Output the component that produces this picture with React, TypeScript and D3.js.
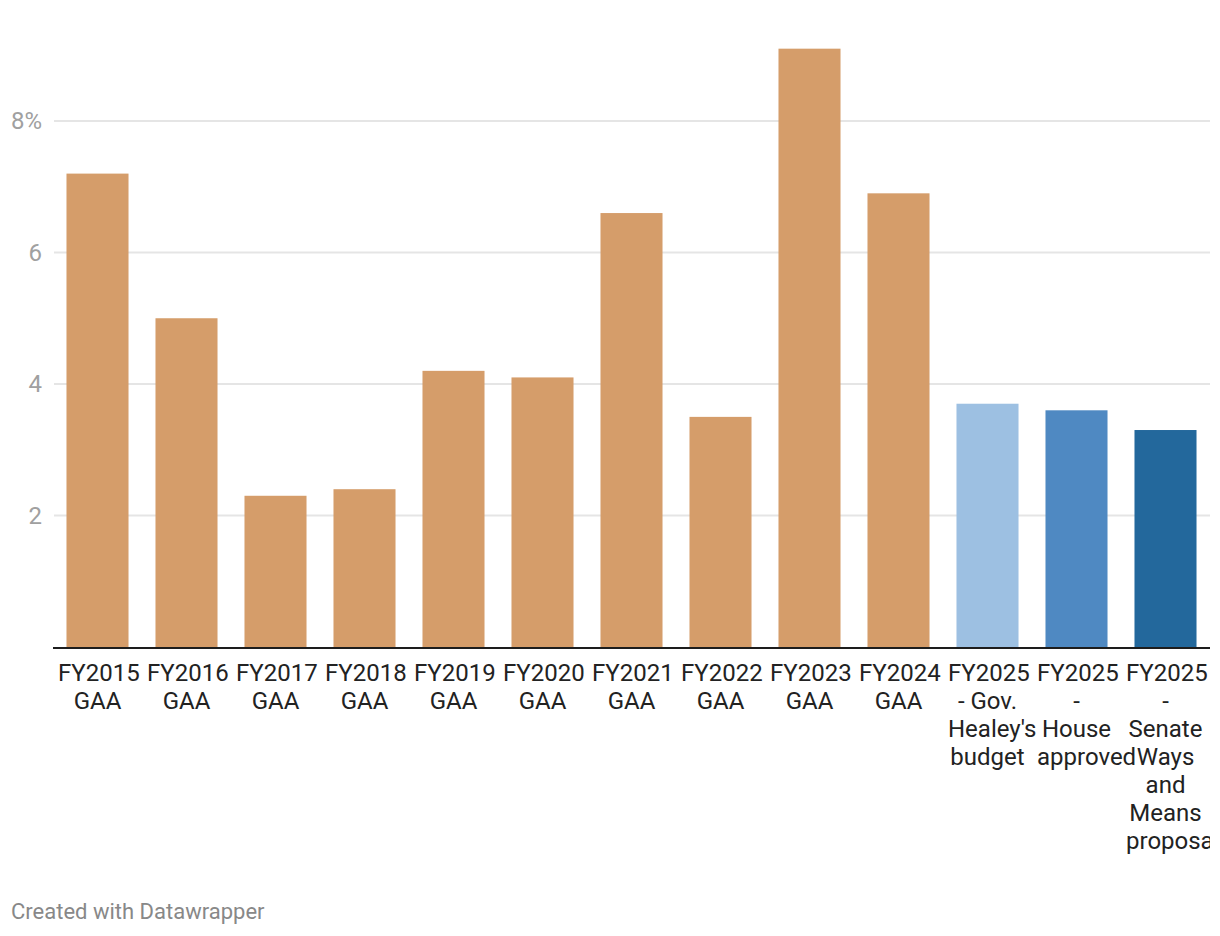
import * as d3 from 'd3';
import { useMemo } from 'react';

// Spending growth by budget stage (percent)
const categories = [
  'FY2015 GAA',
  'FY2016 GAA',
  'FY2017 GAA',
  'FY2018 GAA',
  'FY2019 GAA',
  'FY2020 GAA',
  'FY2021 GAA',
  'FY2022 GAA',
  'FY2023 GAA',
  'FY2024 GAA',
  "FY2025 - Gov. Healey's budget",
  'FY2025 - House approved',
  'FY2025 - Senate Ways and Means proposal',
];
const values = [7.2, 5.0, 2.3, 2.4, 4.2, 4.1, 6.6, 3.5, 9.1, 6.9, 3.7, 3.6, 3.3];
const barColors = [
  '#d59d6a', '#d59d6a', '#d59d6a', '#d59d6a', '#d59d6a',
  '#d59d6a', '#d59d6a', '#d59d6a', '#d59d6a', '#d59d6a',
  '#9dc0e2', '#4f89c2', '#23689c',
];
const yTicks = [2, 4, 6, 8];

const FONT = 'Roboto, "Noto Sans", sans-serif';
const LABEL_BOX = 79; // width of the label box under each bar

// wrap a label into lines no wider than maxWidth
function wrapLabel(text: string, maxWidth: number, ctx: CanvasRenderingContext2D) {
  const words = text.split(' ');
  const lines: string[] = [];
  let line = '';
  words.forEach((w) => {
    const test = line ? line + ' ' + w : w;
    if (line && ctx.measureText(test).width > maxWidth) {
      lines.push(line);
      line = w;
    } else {
      line = test;
    }
  });
  if (line) lines.push(line);
  return lines.map((l) => ({ text: l, width: ctx.measureText(l).width }));
}

const App = () => {
  const width = 1210;
  const height = 936;

  const x = d3
    .scaleBand<string>()
    .domain(categories)
    .range([53, 1210])
    .paddingInner(0.303)
    .paddingOuter(0.1515);

  const y = d3.scaleLinear().domain([0, 8]).range([647, 121]);

  const wrapped = useMemo(() => {
    const ctx = document.createElement('canvas').getContext('2d')!;
    ctx.font = `24px ${FONT}`;
    return categories.map((c) => wrapLabel(c, x.bandwidth() + 2, ctx));
  }, []);

  return (
    <div style={{ position: 'absolute', left: 0, top: 0 }}>
      <svg width={width} height={height} style={{ display: 'block', overflow: 'hidden', fontFamily: FONT }}>
        <rect width={width} height={height} fill="#fff" />
        {yTicks.map((t) => (
          <g key={t}>
            <line x1={54} x2={1210} y1={y(t)} y2={y(t)} stroke="#e5e5e5" strokeWidth={2} />
            <text x={42} y={y(t)} dy="0.35em" textAnchor="end" fontSize={24} fill="#a0a0a0">
              {t === 8 ? '8%' : t}
            </text>
          </g>
        ))}
        {categories.map((c, i) => (
          <rect
            key={c}
            x={x(c)}
            y={y(values[i])}
            width={x.bandwidth()}
            height={y(0) - y(values[i])}
            fill={barColors[i]}
          />
        ))}
        <line x1={53} x2={1210} y1={648} y2={648} stroke="#1d1d1d" strokeWidth={2} />
        {categories.map((c, i) => {
          const cx = (x(c) ?? 0) + x.bandwidth() / 2;
          return (
            <g key={c}>
              {wrapped[i].map((l, j) => {
                // lines wider than the box overflow to the right from its left edge
                const over = l.width > LABEL_BOX;
                return (
                  <text
                    key={j}
                    x={over ? cx - LABEL_BOX / 2 : cx}
                    y={681 + j * 28}
                    textAnchor={over ? 'start' : 'middle'}
                    fontSize={24}
                    fill="#222"
                  >
                    {l.text}
                  </text>
                );
              })}
            </g>
          );
        })}
        <text x={11} y={919} fontSize={22} fill="#888">
          Created with Datawrapper
        </text>
      </svg>
    </div>
  );
};

export default App;
